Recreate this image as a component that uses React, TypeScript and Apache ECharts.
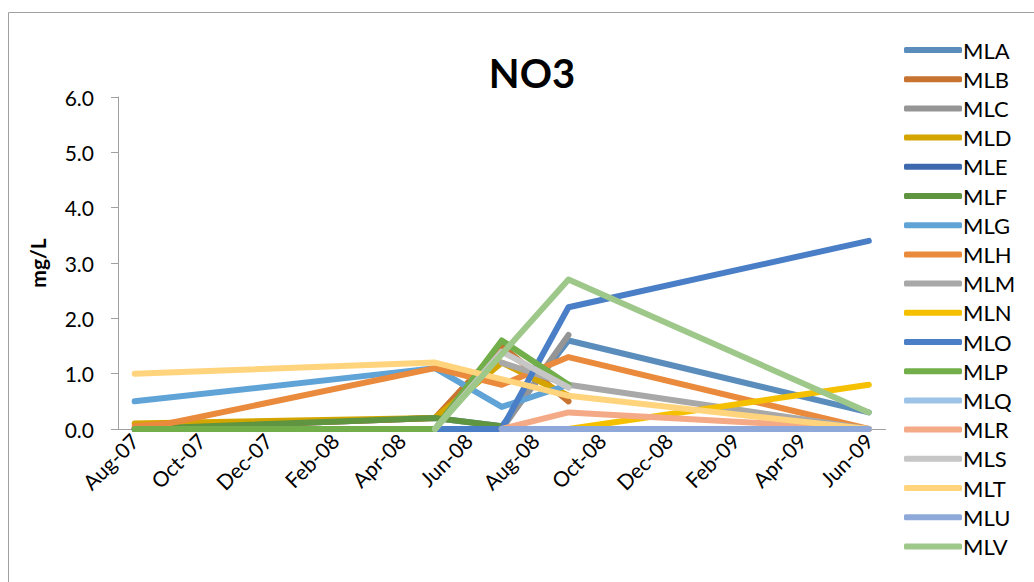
import React, { useEffect, useRef } from "react";
import * as echarts from "echarts";

const months = [
  "Aug-07", "Sep-07", "Oct-07", "Nov-07", "Dec-07", "Jan-08", "Feb-08", "Mar-08",
  "Apr-08", "May-08", "Jun-08", "Jul-08", "Aug-08", "Sep-08", "Oct-08", "Nov-08",
  "Dec-08", "Jan-09", "Feb-09", "Mar-09", "Apr-09", "May-09", "Jun-09",
];

const yTicks = [0, 1, 2, 3, 4, 5, 6];

const seriesNames = [
  "MLA", "MLB", "MLC", "MLD", "MLE", "MLF", "MLG", "MLH", "MLM",
  "MLN", "MLO", "MLP", "MLQ", "MLR", "MLS", "MLT", "MLU", "MLV",
];

const MLA: [string, number][] = [["Aug-07", 0.0], ["May-08", 0.2], ["Jul-08", 0.05], ["Sep-08", 1.6], ["Jun-09", 0.3]];
const MLB: [string, number][] = [["Aug-07", 0.0], ["May-08", 0.2], ["Jul-08", 1.5], ["Sep-08", 0.5]];
const MLC: [string, number][] = [["Jul-08", 0.0], ["Sep-08", 1.7]];
const MLD: [string, number][] = [["Aug-07", 0.1], ["May-08", 0.2], ["Jul-08", 1.2], ["Sep-08", 0.6]];
const MLE: [string, number][] = [["Aug-07", 0.0], ["May-08", 0.0], ["Jul-08", 0.0]];
const MLF: [string, number][] = [["Aug-07", 0.0], ["May-08", 0.2], ["Jul-08", 0.05]];
const MLG: [string, number][] = [["Aug-07", 0.5], ["May-08", 1.1], ["Jul-08", 0.4], ["Sep-08", 0.8]];
const MLH: [string, number][] = [["Aug-07", 0.05], ["Sep-07", 0.1], ["May-08", 1.1], ["Jul-08", 0.8], ["Sep-08", 1.3], ["Jun-09", 0.0]];
const MLM: [string, number][] = [["Jul-08", 1.2], ["Sep-08", 0.8], ["Jun-09", 0.0]];
const MLN: [string, number][] = [["Jul-08", 0.0], ["Sep-08", 0.0], ["Jun-09", 0.8]];
const MLO: [string, number][] = [["May-08", 0.0], ["Jul-08", 0.0], ["Sep-08", 2.2], ["Jun-09", 3.4]];
const MLP: [string, number][] = [["Aug-07", 0.0], ["May-08", 0.0], ["Jul-08", 1.6], ["Sep-08", 0.8]];
const MLQ: [string, number][] = [["Jul-08", 0.0], ["Sep-08", 0.0], ["Jun-09", 0.0]];
const MLR: [string, number][] = [["Jul-08", 0.0], ["Sep-08", 0.3], ["Jun-09", 0.0]];
const MLS: [string, number][] = [["May-08", 0.0], ["Jul-08", 1.4], ["Sep-08", 0.75]];
const MLT: [string, number][] = [["Aug-07", 1.0], ["May-08", 1.2], ["Sep-08", 0.6], ["Jun-09", 0.0]];
const MLU: [string, number][] = [["Jul-08", 0.0], ["Sep-08", 0.0], ["Jun-09", 0.0]];
const MLV: [string, number][] = [["May-08", 0.0], ["Sep-08", 2.7], ["Jun-09", 0.3]];

const seriesData = [MLA, MLB, MLC, MLD, MLE, MLF, MLG, MLH, MLM, MLN, MLO, MLP, MLQ, MLR, MLS, MLT, MLU, MLV];

const colors = [
  "#5A8DBC", "#C8732F", "#959595", "#D4A500", "#3F69AE", "#5F9440",
  "#60A3D7", "#EA8A3C", "#A8A8A8", "#F5C000", "#4A7EC6", "#72AE4A",
  "#9DC3E6", "#F4AA86", "#C6C6C6", "#FFD47C", "#8FA8DA", "#9EC88A",
];

const FONT = "Lato, 'Noto Sans', sans-serif";

export default function App() {
  const ref = useRef<HTMLDivElement>(null);
  useEffect(() => {
    if (!ref.current) return;
    const chart = echarts.init(ref.current, null, { renderer: "svg" });
    chart.setOption({
      animation: false,
      backgroundColor: "#ffffff",
      color: colors,
      title: {
        text: "NO3",
        left: 527,
        top: 48,
        textAlign: "center",
        textStyle: { fontFamily: FONT, fontSize: 40, fontWeight: "bold", color: "#000" },
      },
      graphic: [
        {
          type: "rect",
          shape: { x: 8.5, y: 12.5, width: 1100, height: 700 },
          style: { fill: "none", stroke: "#A0A0A0", lineWidth: 1 },
          silent: true,
          z: -1,
        },
      ],
      legend: {
        orient: "vertical",
        left: 904,
        top: 39,
        padding: 0,
        height: 540,
        icon: "roundRect",
        itemWidth: 58,
        itemHeight: 6,
        itemGap: 7.2,
        data: seriesNames,
        textStyle: { fontFamily: FONT, fontSize: 22, color: "#000", lineHeight: 22, padding: [0, 0, 0, -4] },
      },
      grid: { left: 118, top: 97, width: 767.5, height: 332 },
      xAxis: {
        type: "category",
        data: months,
        boundaryGap: true,
        axisLine: { lineStyle: { color: "#A0A0A0" } },
        axisTick: { interval: 1, length: 6, lineStyle: { color: "#A0A0A0" } },
        axisLabel: {
          interval: 1,
          rotate: 45,
          margin: 8,
          fontFamily: FONT,
          fontSize: 21,
          color: "#000",
        },
        splitLine: { show: false },
      },
      yAxis: {
        type: "value",
        min: yTicks[0],
        max: yTicks[yTicks.length - 1],
        interval: 1,
        name: "mg/L",
        nameLocation: "middle",
        nameGap: 70,
        nameTextStyle: { fontFamily: FONT, fontSize: 21, fontWeight: "bold", color: "#000" },
        axisLine: { show: true, lineStyle: { color: "#A0A0A0" } },
        axisTick: { show: true, length: 7, lineStyle: { color: "#A0A0A0" } },
        axisLabel: {
          margin: 24,
          fontFamily: FONT,
          fontSize: 21,
          color: "#000",
          formatter: (v: number) => v.toFixed(1),
        },
        splitLine: { show: false },
      },
      series: seriesNames.map((name, i) => ({
        name,
        type: "line",
        data: seriesData[i],
        symbol: "none",
        showSymbol: false,
        lineStyle: { width: 6, cap: "round", join: "round", color: colors[i] },
        itemStyle: { color: colors[i] },
      })),
    });
    return () => chart.dispose();
  }, []);
  return (
    <div
      ref={ref}
      style={{ position: "absolute", left: 0, top: 0, width: 1034, height: 582 }}
    />
  );
}
